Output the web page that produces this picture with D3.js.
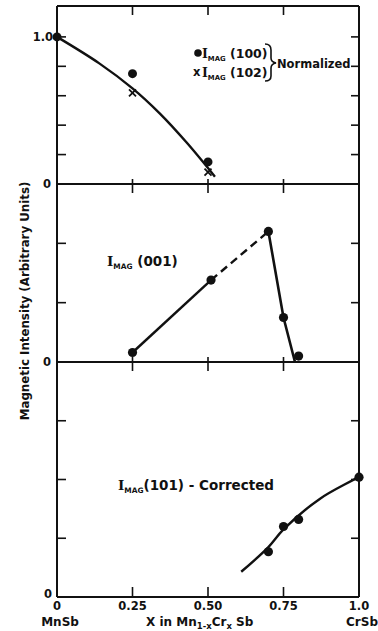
<!DOCTYPE html>
<html>
<head>
<meta charset="utf-8">
<script src="https://cdn.jsdelivr.net/npm/d3@7"></script>
<style>
  html, body { margin: 0; padding: 0; background: #fff; }
  svg { display: block; }
  text { font-family: "DejaVu Sans", sans-serif; font-weight: bold; fill: #111; }
</style>
</head>
<body>
<svg id="chart" width="378" height="631"></svg>
<script>
// Composition axis (x in Mn(1-x)Cr(x)Sb)
const xTickValues = [0, 0.25, 0.5, 0.75, 1.0];
const xTickLabels = ["0", "0.25", "0.50", "0.75", "1.0"];

// Top panel: normalized I_MAG(100) and I_MAG(102)
const topTicks = [0.2, 0.4, 0.6, 0.8, 1.0];
const imag100X = [0, 0.25, 0.5];
const imag100Y = [1.0, 0.75, 0.15];
const imag102X = [0.25, 0.5];
const imag102Y = [0.62, 0.08];
const fitTopX = [0, 0.14, 0.25, 0.34, 0.43, 0.523];
const fitTopY = [1.0, 0.82, 0.65, 0.48, 0.28, 0.05];

// Middle panel: I_MAG(001)
const midTicks = [1, 2];
const imag001X = [0.25, 0.51, 0.70, 0.75, 0.80];
const imag001Y = [0.16, 1.38, 2.20, 0.75, 0.10];
const solidLeftX = [0.25, 0.51];
const solidLeftY = [0.16, 1.38];
const dashedX = [0.51, 0.70];
const dashedY = [1.38, 2.20];
const solidRightX = [0.70, 0.75, 0.788];
const solidRightY = [2.20, 0.75, 0.0];

// Bottom panel: I_MAG(101), corrected
const botTicks = [1, 2, 3];
const imag101X = [0.70, 0.75, 0.80, 1.0];
const imag101Y = [0.77, 1.20, 1.32, 2.04];
const fitBotX = [0.61, 0.70, 0.75, 0.87, 1.0];
const fitBotY = [0.43, 0.85, 1.15, 1.67, 2.04];

const svg = d3.select("#chart");
const x = d3.scaleLinear().domain([0, 1]).range([57, 359]);

const yTop = d3.scaleLinear().domain([0, 1.21]).range([184, 6]);
const yMid = d3.scaleLinear().domain([0, 3]).range([362, 184]);
const yBot = d3.scaleLinear().domain([0, 4]).range([597, 362]);

const ink = "#111";

// Frame and panel separators
const frame = svg.append("g").attr("stroke", ink).attr("fill", "none").attr("stroke-width", 2);
frame.append("line").attr("x1", x(0)).attr("x2", x(0)).attr("y1", yTop.range()[1]).attr("y2", yBot(0));
frame.append("line").attr("x1", x(1)).attr("x2", x(1)).attr("y1", yTop.range()[1]).attr("y2", yBot(0));
[yTop.range()[1], yTop(0), yMid(0), yBot(0)].forEach(yy => {
  frame.append("line").attr("x1", x(0)).attr("x2", x(1)).attr("y1", yy).attr("y2", yy);
});

// Vertical tick marks on left and right edges of each panel
function yTicks(scale, ticks) {
  const g = svg.append("g").attr("stroke", ink).attr("stroke-width", 1.6);
  ticks.forEach(t => {
    g.append("line").attr("x1", x(0)).attr("x2", x(0) + 9).attr("y1", scale(t)).attr("y2", scale(t));
    g.append("line").attr("x1", x(1) - 8).attr("x2", x(1)).attr("y1", scale(t)).attr("y2", scale(t));
  });
}
yTicks(yTop, topTicks);
yTicks(yMid, midTicks);
yTicks(yBot, botTicks);

// Composition ticks along the top, separators and bottom
const inner = [0.25, 0.5, 0.75];
const tg = svg.append("g").attr("stroke", ink).attr("stroke-width", 1.6);
inner.forEach(v => {
  tg.append("line").attr("x1", x(v)).attr("x2", x(v)).attr("y1", yTop.range()[1]).attr("y2", yTop.range()[1] + 9);
  [yTop(0), yMid(0)].forEach(yy => {
    tg.append("line").attr("x1", x(v)).attr("x2", x(v)).attr("y1", yy - 5).attr("y2", yy + 9);
  });
  tg.append("line").attr("x1", x(v)).attr("x2", x(v)).attr("y1", yBot(0) - 10).attr("y2", yBot(0));
});

// Tick labels on the y edge
svg.append("text").attr("x", 53).attr("y", yTop(1.0) + 4).attr("text-anchor", "end")
  .attr("font-size", 11.5).text("1.0");
[[yTop, 0], [yMid, 0]].forEach(([s, v]) => {
  svg.append("text").attr("x", 51).attr("y", s(v) + 4).attr("text-anchor", "end")
    .attr("font-size", 11.5).text("0");
});
svg.append("text").attr("x", 52).attr("y", yBot(0) + 1).attr("text-anchor", "end")
  .attr("font-size", 11.5).text("0");

// Composition labels
xTickValues.forEach((v, i) => {
  svg.append("text").attr("x", x(v)).attr("y", 610).attr("text-anchor", "middle")
    .attr("font-size", 11.5).text(xTickLabels[i]);
});
svg.append("text").attr("x", x(0) + 3).attr("y", 626).attr("text-anchor", "middle")
  .attr("font-size", 12).text("MnSb");
svg.append("text").attr("x", x(1) + 3).attr("y", 626).attr("text-anchor", "middle")
  .attr("font-size", 12).text("CrSb");

const xt = svg.append("text").attr("x", 146).attr("y", 626).attr("font-size", 12);
xt.append("tspan").text("X in  Mn");
xt.append("tspan").attr("font-size", 8.5).attr("dy", 3).text("1-x");
xt.append("tspan").attr("dy", -3).text("Cr");
xt.append("tspan").attr("font-size", 8.5).attr("dy", 3).text("x");
xt.append("tspan").attr("dy", -3).text(" Sb");

// Y-axis title
svg.append("text")
  .attr("transform", "translate(29,301) rotate(-90)")
  .attr("text-anchor", "middle").attr("font-size", 11.8)
  .text("Magnetic Intensity (Arbitrary Units)");

// Helper for "I_MAG" labels
function imag(xPos, yPos, size, rest) {
  const t = svg.append("text").attr("x", xPos).attr("y", yPos).attr("font-size", size);
  t.append("tspan").attr("font-family", "DejaVu Serif").text("I");
  t.append("tspan").attr("font-size", size * 0.55).attr("dy", 3).text("MAG");
  t.append("tspan").attr("dy", -3).text(rest);
  return t;
}

const line = d3.line().x(d => x(d[0]));
const pairs = (xs, ys) => xs.map((v, i) => [v, ys[i]]);

// Top panel fit curve and points
svg.append("path")
  .datum(pairs(fitTopX, fitTopY))
  .attr("d", line.y(d => yTop(d[1])).curve(d3.curveCatmullRom.alpha(0.5)))
  .attr("fill", "none").attr("stroke", ink).attr("stroke-width", 2.4);
svg.append("g").selectAll("circle").data(pairs(imag100X, imag100Y)).join("circle")
  .attr("cx", d => x(d[0])).attr("cy", d => yTop(d[1])).attr("r", 4.5).attr("fill", ink);
svg.append("g").attr("stroke", ink).attr("stroke-width", 1.8)
  .selectAll("path").data(pairs(imag102X, imag102Y)).join("path")
  .attr("d", d => {
    const cx = x(d[0]), cy = yTop(d[1]), h = 3.5;
    return `M${cx - h},${cy - h}L${cx + h},${cy + h}M${cx + h},${cy - h}L${cx - h},${cy + h}`;
  });

// Legend
svg.append("circle").attr("cx", 198).attr("cy", 53).attr("r", 3.8).attr("fill", ink);
imag(202, 58, 12.5, " (100)");
svg.append("text").attr("x", 193).attr("y", 76).attr("font-size", 11.5).text("x");
imag(202, 77, 12.5, " (102)");
svg.append("path")
  .attr("d", "M265,44 Q271,44 271,50 L271,58 Q271,62 276,63 Q271,64 271,68 L271,76 Q271,81 265,81")
  .attr("fill", "none").attr("stroke", ink).attr("stroke-width", 1.6);
svg.append("text").attr("x", 277).attr("y", 68).attr("font-size", 11.5).text("Normalized");

// Middle panel
imag(107, 266, 13.5, "  (001)");
const lm = d3.line().x(d => x(d[0])).y(d => yMid(d[1]));
svg.append("path").datum(pairs(solidLeftX, solidLeftY)).attr("d", lm)
  .attr("fill", "none").attr("stroke", ink).attr("stroke-width", 2.4);
svg.append("path").datum(pairs(dashedX, dashedY)).attr("d", lm)
  .attr("fill", "none").attr("stroke", ink).attr("stroke-width", 2.4).attr("stroke-dasharray", "8,5");
svg.append("path").datum(pairs(solidRightX, solidRightY)).attr("d", lm)
  .attr("fill", "none").attr("stroke", ink).attr("stroke-width", 2.6);
svg.append("g").selectAll("circle").data(pairs(imag001X, imag001Y)).join("circle")
  .attr("cx", d => x(d[0])).attr("cy", d => yMid(d[1])).attr("r", 4.6).attr("fill", ink);

// Bottom panel
imag(118, 490, 13.5, "(101) - Corrected");
svg.append("path")
  .datum(pairs(fitBotX, fitBotY))
  .attr("d", d3.line().x(d => x(d[0])).y(d => yBot(d[1])).curve(d3.curveCatmullRom.alpha(0.5)))
  .attr("fill", "none").attr("stroke", ink).attr("stroke-width", 2.4);
svg.append("g").selectAll("circle").data(pairs(imag101X, imag101Y)).join("circle")
  .attr("cx", d => x(d[0])).attr("cy", d => yBot(d[1])).attr("r", 4.6).attr("fill", ink);
</script>
</body>
</html>
